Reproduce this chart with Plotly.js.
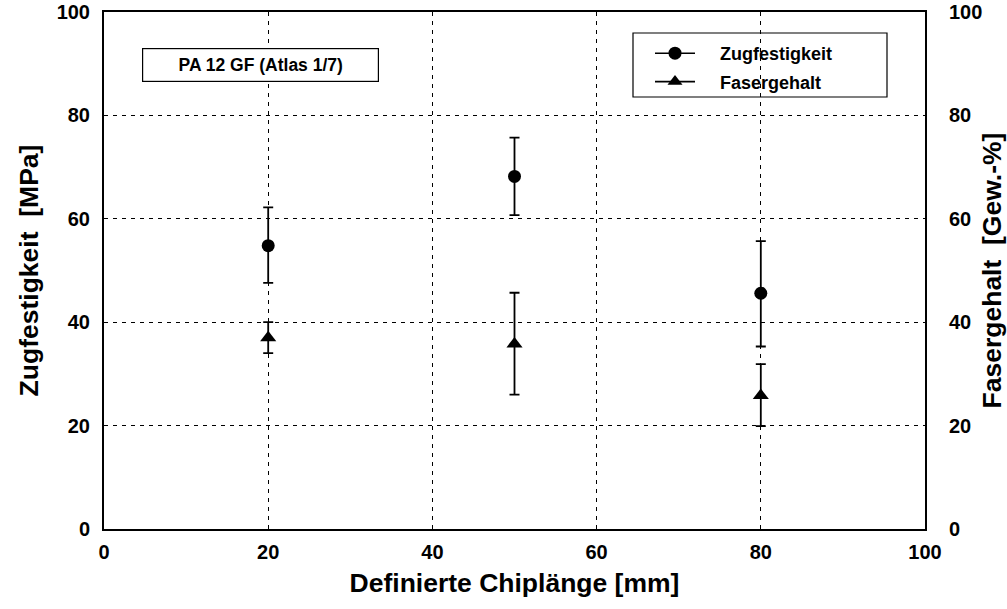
<!DOCTYPE html>
<html>
<head>
<meta charset="utf-8">
<script src="https://cdn.plot.ly/plotly-3.0.1.min.js"></script>
<style>
  html, body { margin: 0; padding: 0; background: #fff; }
  #chart { width: 1007px; height: 609px; }
</style>
</head>
<body>
<div id="chart"></div>
<script>
// Chip length classes [mm]
const chipLength = [20, 50, 80];

// Tensile strength [MPa] with upper / lower deviation
const tensileStrength = [54.8, 68.2, 45.6];
const tensileErrPlus = [7.4, 7.5, 10.1];
const tensileErrMinus = [7.2, 7.5, 10.3];

// Fibre content [wt.-%] with deviation
const fibreContent = [37.0, 35.8, 25.8];
const fibreErrPlus = [3.0, 9.9, 6.1];
const fibreErrMinus = [3.0, 9.8, 5.9];

const seriesNames = ['Zugfestigkeit', 'Fasergehalt'];
const boxLabel = 'PA 12 GF (Atlas 1/7)';
const tickVals = [0, 20, 40, 60, 80, 100];

const FONT = '"Liberation Sans", Arial, Helvetica, sans-serif';
const bold = (size) => ({ family: FONT, size: size, color: '#000', weight: 'bold' });

// plot area in pixels
const W = 1007, H = 609;
const M = { l: 104, r: 82, t: 12, b: 80 };
const PW = W - M.l - M.r, PH = H - M.t - M.b;
const px = (x) => (x - M.l) / PW;          // pixel x -> paper x
const py = (y) => 1 - (y - M.t) / PH;      // pixel y -> paper y

// legend labels sit a little further from their symbols
const pad = '\u00a0\u00a0\u00a0\u00a0';

const errStyle = { color: '#000', thickness: 1.8, width: 5 };

const traces = [
  {
    x: chipLength, y: tensileStrength, type: 'scatter', mode: 'markers',
    marker: { symbol: 'circle', size: 13, color: '#000' },
    error_y: Object.assign({ type: 'data', symmetric: false,
      array: tensileErrPlus, arrayminus: tensileErrMinus }, errStyle),
    showlegend: false, name: seriesNames[0], yaxis: 'y'
  },
  {
    x: chipLength, y: fibreContent, type: 'scatter', mode: 'markers',
    marker: { symbol: 'triangle-up', size: 14, color: '#000' },
    error_y: Object.assign({ type: 'data', symmetric: false,
      array: fibreErrPlus, arrayminus: fibreErrMinus }, errStyle),
    showlegend: false, name: seriesNames[1], yaxis: 'y2'
  },
  // legend entries (line through marker)
  {
    x: [null], y: [null], type: 'scatter', mode: 'lines+markers', name: pad + seriesNames[0],
    legendgroup: 'a',
    marker: { symbol: 'circle', size: 13, color: '#000' },
    line: { color: '#000', width: 1.6 }, yaxis: 'y'
  },
  {
    x: [null], y: [null], type: 'scatter', mode: 'lines+markers', name: pad + seriesNames[1],
    legendgroup: 'b',
    marker: { symbol: 'triangle-up', size: 13, color: '#000' },
    line: { color: '#000', width: 1.6 }, yaxis: 'y2'
  }
];

const gridCommon = {
  showgrid: true, gridcolor: '#000', gridwidth: 1.1, griddash: '4px,5px',
  showline: true, linecolor: '#000', linewidth: 2,
  zeroline: false, ticks: '', tickfont: bold(20),
  tickvals: tickVals, range: [0, 100], fixedrange: true
};

const layout = {
  width: W, height: H,
  paper_bgcolor: '#fff', plot_bgcolor: '#fff',
  margin: M,
  font: { family: FONT, color: '#000' },
  xaxis: Object.assign({}, gridCommon, {
    mirror: true, ticklabelstandoff: 4,
    title: { text: 'Definierte Chiplänge [mm]', font: bold(26.5), standoff: 11 }
  }),
  yaxis: Object.assign({}, gridCommon, {
    mirror: true, ticklabelstandoff: 8,
    title: { text: 'Zugfestigkeit  [MPa]', font: bold(26.5), standoff: 10 }
  }),
  yaxis2: Object.assign({}, gridCommon, {
    overlaying: 'y', side: 'right', showgrid: false, ticklabelstandoff: 18,
    title: { text: 'Fasergehalt  [Gew.-%]', font: bold(26.5), standoff: 1 }
  }),
  showlegend: true,
  legend: {
    x: px(650), xanchor: 'left', y: py(35), yanchor: 'top',
    bgcolor: 'rgba(0,0,0,0)', borderwidth: 0,
    font: bold(18), tracegroupgap: 2, itemwidth: 40
  },
  shapes: [
    // frame around the legend
    {
      type: 'rect', xref: 'paper', yref: 'paper',
      x0: px(633), x1: px(887), y0: py(33), y1: py(97),
      line: { color: '#000', width: 1.2 }, fillcolor: '#fff', layer: 'below'
    }
  ],
  annotations: [
    {
      text: boxLabel, xref: 'paper', yref: 'paper',
      x: px(142 + 237 / 2), y: py(65),
      xanchor: 'center', yanchor: 'middle', showarrow: false,
      font: bold(17.5), bordercolor: '#000', borderwidth: 1.2,
      width: 233, height: 30, bgcolor: '#fff'
    }
  ]
};

Plotly.newPlot('chart', traces, layout, { displayModeBar: false, staticPlot: true });
</script>
</body>
</html>
